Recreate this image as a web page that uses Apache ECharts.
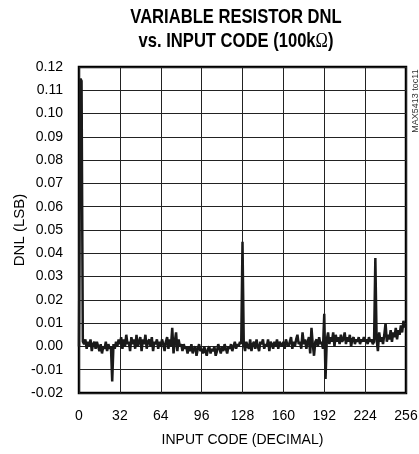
<!DOCTYPE html>
<html>
<head>
<meta charset="utf-8">
<script src="https://cdn.jsdelivr.net/npm/echarts@6/dist/echarts.min.js"></script>
<style>
html,body{margin:0;padding:0;background:#fff;}
#chart{width:419px;height:454px;}
</style>
</head>
<body>
<div id="chart"></div>
<script>
// Tick / axis setup
const xTicks = [0, 32, 64, 96, 128, 160, 192, 224, 256];
const yTicks = [-0.02, -0.01, 0.00, 0.01, 0.02, 0.03, 0.04, 0.05, 0.06, 0.07, 0.08, 0.09, 0.10, 0.11, 0.12];

// DNL (LSB) per input code 0..255
const dnl0 = [0.000, 0.115, 0.114, 0.002, 0.001, 0.003, -0.001, 0.002, 0.000, 0.003, -0.002, 0.001, 0.002, -0.001, 0.002, 0.000];
const dnl16 = [-0.002, 0.001, -0.003, 0.000, -0.001, 0.002, -0.002, 0.001, -0.001, 0.000, -0.015, 0.001, -0.001, 0.002, 0.000, 0.003];
const dnl32 = [0.001, 0.004, -0.001, 0.003, 0.000, 0.005, 0.001, 0.002, -0.002, 0.004, 0.001, 0.003, -0.001, 0.005, 0.000, 0.002];
const dnl48 = [0.004, -0.002, 0.003, 0.001, 0.005, -0.001, 0.002, 0.003, 0.000, 0.004, -0.002, 0.002, 0.001, 0.003, -0.001, 0.002];
const dnl64 = [0.000, 0.003, 0.001, -0.002, 0.002, 0.004, -0.001, 0.003, 0.000, 0.008, -0.003, 0.002, 0.006, -0.002, 0.003, 0.000];
const dnl80 = [0.001, -0.002, 0.001, -0.001, 0.000, -0.003, 0.000, -0.002, 0.001, -0.003, -0.001, 0.000, -0.004, -0.001, 0.001, -0.002];
const dnl96 = [-0.001, -0.003, 0.000, -0.002, -0.004, -0.001, 0.000, -0.003, -0.001, -0.002, 0.000, -0.004, -0.002, 0.001, -0.001, -0.003];
const dnl112 = [0.000, -0.002, 0.001, -0.001, -0.003, 0.000, -0.001, 0.001, -0.002, 0.000, 0.002, -0.001, 0.001, 0.000, 0.002, 0.001];
const dnl128 = [0.045, 0.001, -0.002, 0.002, 0.000, -0.001, 0.003, -0.002, 0.001, 0.002, -0.001, 0.003, 0.000, -0.002, 0.002, 0.001];
const dnl144 = [0.003, -0.001, 0.001, 0.000, 0.003, -0.002, 0.002, 0.001, -0.001, 0.002, 0.000, 0.003, -0.001, 0.002, 0.001, 0.000];
const dnl160 = [0.002, -0.001, 0.003, 0.001, 0.000, 0.002, 0.004, -0.001, 0.002, 0.000, 0.003, 0.005, 0.001, 0.002, -0.001, 0.006];
const dnl176 = [0.001, 0.003, -0.001, 0.002, 0.004, -0.003, 0.008, 0.001, -0.004, 0.002, 0.003, 0.000, 0.004, 0.001, 0.002, -0.001];
const dnl192 = [0.014, -0.014, 0.003, 0.006, 0.001, 0.004, 0.002, 0.006, 0.000, 0.005, 0.002, 0.004, 0.001, 0.005, 0.002, 0.003];
const dnl208 = [0.006, 0.001, 0.004, 0.002, 0.005, 0.000, 0.003, 0.004, 0.001, 0.003, 0.002, 0.004, 0.001, 0.003, 0.002, 0.004];
const dnl224 = [0.002, 0.003, 0.001, 0.004, 0.002, 0.003, 0.001, 0.002, 0.038, 0.003, -0.002, 0.006, 0.002, 0.004, 0.001, 0.005];
const dnl240 = [0.010, 0.002, 0.005, 0.003, 0.007, 0.002, 0.006, 0.004, 0.008, 0.003, 0.007, 0.005, 0.009, 0.006, 0.011, 0.008];

const dnl = [].concat(dnl0, dnl16, dnl32, dnl48, dnl64, dnl80, dnl96, dnl112,
  dnl128, dnl144, dnl160, dnl176, dnl192, dnl208, dnl224, dnl240);
const seriesData = dnl.map((v, i) => [i, v]);

const FONT = "'Liberation Sans Narrow', 'Liberation Sans', Arial, sans-serif";

const chart = echarts.init(document.getElementById('chart'), null, {renderer: 'canvas'});
chart.setOption({
  animation: false,
  backgroundColor: '#fff',
  grid: {
    left: 79, right: 13, top: 67, bottom: 61,
    outerBoundsMode: 'none', containLabel: false,
    show: true, borderColor: '#000', borderWidth: 2.5, backgroundColor: 'transparent'
  },
  xAxis: {
    type: 'value',
    min: xTicks[0], max: xTicks[xTicks.length - 1], interval: 32,
    name: 'INPUT CODE (DECIMAL)',
    nameLocation: 'middle', nameGap: 40, nameMoveOverlap: false,
    nameTextStyle: {fontFamily: FONT, fontSize: 14, color: '#000'},
    axisLine: {show: false}, axisTick: {show: false},
    axisLabel: {fontFamily: FONT, fontSize: 14, color: '#000', margin: 16},
    splitLine: {show: true, lineStyle: {color: '#222', width: 1}}
  },
  yAxis: {
    type: 'value',
    min: yTicks[0], max: yTicks[yTicks.length - 1], interval: 0.01,
    name: 'DNL (LSB)',
    nameLocation: 'middle', nameGap: 52, nameRotate: 90, nameMoveOverlap: false,
    nameTextStyle: {fontFamily: FONT, fontSize: 15, color: '#000'},
    axisLine: {show: false}, axisTick: {show: false},
    axisLabel: {fontFamily: FONT, fontSize: 14, color: '#000', margin: 16,
      formatter: v => v.toFixed(2)},
    splitLine: {show: true, lineStyle: {color: '#222', width: 1}}
  },
  graphic: [{
    type: 'text',
    x: 236, y: 17,
    scaleX: 0.79,
    style: {
      text: 'VARIABLE RESISTOR DNL',
      fontFamily: FONT, fontWeight: 'bold', fontSize: 21, fill: '#000',
      align: 'center', verticalAlign: 'middle'
    }
  }, {
    type: 'text',
    x: 236, y: 41,
    scaleX: 0.79,
    style: {
      text: 'vs. INPUT CODE (100k{o|Ω})',
      fontFamily: FONT, fontWeight: 'bold', fontSize: 21, fill: '#000',
      align: 'center', verticalAlign: 'middle',
      rich: {
        o: {fontFamily: "'Liberation Serif', serif", fontWeight: 'normal', fontSize: 21, fill: '#000'}
      }
    }
  }, {
    type: 'text',
    x: 416, y: 101,
    rotation: Math.PI / 2,
    style: {
      text: 'MAX5413 toc11',
      fontFamily: FONT, fontSize: 9, fill: '#333',
      align: 'center', verticalAlign: 'middle'
    }
  }],
  series: [{
    type: 'line',
    data: seriesData,
    showSymbol: false,
    lineStyle: {color: '#1a1a1a', width: 2.5},
    z: 3
  }]
});
</script>
</body>
</html>
